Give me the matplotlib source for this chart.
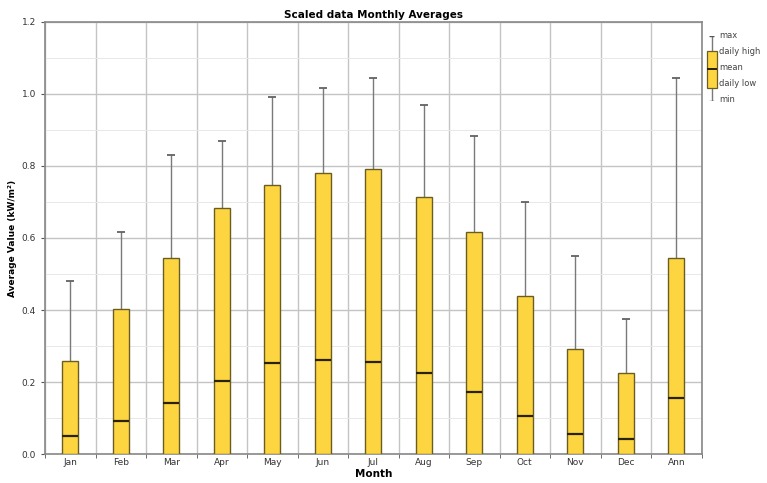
import numpy as np
import matplotlib
matplotlib.use("Agg")
import matplotlib.pyplot as plt
from matplotlib.ticker import MultipleLocator

# data
months = ['Jan', 'Feb', 'Mar', 'Apr', 'May', 'Jun', 'Jul', 'Aug', 'Sep', 'Oct', 'Nov', 'Dec', 'Ann']
v_min = [0.0, 0.0, 0.0, 0.0, 0.0, 0.0, 0.0, 0.0, 0.0, 0.0, 0.0, 0.0, 0.0]
v_low = [0.0, 0.0, 0.0, 0.0, 0.0, 0.0, 0.0, 0.0, 0.0, 0.0, 0.0, 0.0, 0.0]
v_mean = [0.05, 0.092, 0.142, 0.203, 0.253, 0.261, 0.256, 0.225, 0.172, 0.106, 0.056, 0.042, 0.156]
v_high = [0.258, 0.403, 0.544, 0.683, 0.747, 0.781, 0.792, 0.714, 0.617, 0.439, 0.292, 0.225, 0.544]
v_max = [0.48, 0.617, 0.831, 0.869, 0.992, 1.017, 1.044, 0.969, 0.883, 0.70, 0.55, 0.375, 1.044]

bar_color = '#FDD540'
edge_color = '#6b5c22'
mean_color = '#2a2200'
whisker_color = '#7a7a7a'
grid_color = '#c4c4c4'

fig = plt.figure(figsize=(7.67, 4.83), dpi=100)
ax = fig.add_axes([0.0587, 0.06, 0.856, 0.8945])

x = np.arange(len(months))
low = np.array(v_low)
high = np.array(v_high)
box_w = 0.32
cap_w = 0.16

# whiskers
ax.vlines(x, high, v_max, color=whisker_color, lw=1.0, zorder=2)
ax.hlines(v_max, x - cap_w / 2, x + cap_w / 2, color='#555555', lw=1.2, zorder=2)
ax.vlines(x, v_min, low, color=whisker_color, lw=1.0, zorder=2)

# boxes
ax.bar(x, high - low, bottom=low, width=box_w, color=bar_color,
       edgecolor=edge_color, linewidth=1.0, zorder=3)
ax.hlines(v_mean, x - box_w / 2, x + box_w / 2, color=mean_color, lw=1.6, zorder=4)

ax.set_xlim(-0.5, len(months) - 0.5)
ax.set_ylim(0, 1.2)
ax.yaxis.set_major_locator(MultipleLocator(0.2))
ax.yaxis.set_minor_locator(MultipleLocator(0.1))
ax.set_yticklabels([f'{v:.1f}' for v in ax.get_yticks()])

# vertical grid on category boundaries
ax.set_xticks(x)
ax.set_xticklabels(months, fontsize=6.5, color='#333333')
ax.set_xticks(np.arange(len(months) + 1) - 0.5, minor=True)
ax.tick_params(axis='x', which='major', length=0, pad=3)
ax.tick_params(axis='x', which='minor', length=3, color='#555555')
ax.tick_params(axis='y', which='major', length=3, labelsize=6.5, labelcolor='#333333', color='#555555')
ax.tick_params(axis='y', which='minor', length=0)
ax.grid(True, axis='x', which='minor', color=grid_color, lw=1.0, zorder=0)
ax.grid(True, axis='y', which='major', color=grid_color, lw=1.0, zorder=0)
ax.grid(True, axis='y', which='minor', color='#e8e8e8', lw=0.7, zorder=0)
ax.set_axisbelow(True)

for s in ax.spines.values():
    s.set_color('#888888')
    s.set_linewidth(1.2)

ax.set_title('Scaled data Monthly Averages', fontsize=7.5, fontweight='bold', pad=3)
ax.set_xlabel('Month', fontsize=7.5, fontweight='bold', labelpad=1)
ax.set_ylabel('Average Value (kW/m²)', fontsize=6.5, fontweight='bold', labelpad=3)

# legend glyph on the right
lg = fig.add_axes([0.918, 0.79, 0.02, 0.135])
lg.set_xlim(-1, 1)
lg.set_ylim(0, 1)
lg.axis('off')
lg.vlines(0, 0.0, 1.0, color=whisker_color, lw=1.0)
lg.hlines([0.0, 1.0], -0.35, 0.35, color='#555555', lw=1.0)
lg.bar(0, 0.58, bottom=0.2, width=1.3, color=bar_color, edgecolor=edge_color, linewidth=0.9, zorder=3)
lg.hlines(0.5, -0.65, 0.65, color=mean_color, lw=1.4, zorder=4)

leg_labels = ['max', 'daily high', 'mean', 'daily low', 'min']
leg_y = [36, 51, 67, 84, 100]
for lab, py in zip(leg_labels, leg_y):
    fig.text(719 / 767, 1 - py / 483, lab, fontsize=6, color='#444444', va='center', ha='left')

fig.savefig('out.png', dpi=100)
